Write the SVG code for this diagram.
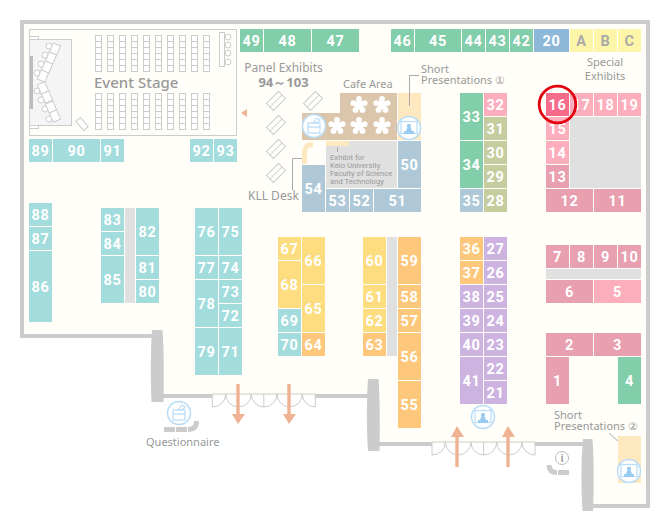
<svg xmlns="http://www.w3.org/2000/svg" xmlns:xlink="http://www.w3.org/1999/xlink" width="670" height="520" viewBox="0 0 670 520">
<style>
text{font-family:"Roboto","Liberation Sans",sans-serif}
.n{font-size:14.500px;font-weight:700;fill:#fff;text-anchor:middle;letter-spacing:.7px}
.l{font-family:"Noto Sans","Liberation Sans",sans-serif;font-size:11px;fill:#999}
.c{text-anchor:middle}
.t{fill:#a3dcdc}.g{fill:#82ceaa}.b{fill:#aec8d8}.b2{fill:#8eb8d8}.y{fill:#fdf6a8}.p{fill:#fdaebd}.m{fill:#e8a0b0}.r{fill:#f66a8a}.o{fill:#c5cd9f}.v{fill:#cdb4e0}.a{fill:#fdc87c}.f{fill:#fddd80}
.k{fill:#e0e0e0}.s{fill:#fde8c0}
.ln{fill:none;stroke:#ccc;stroke-width:1}
.seat{fill:#fff;stroke:#ccc;stroke-width:1}
.wall{fill:#ccc}
.lead{fill:none;stroke:#aaa;stroke-width:1}
.ar{fill:#efb394}
.ic{fill:#fff;stroke:#b8dcf8;stroke-width:1.5}
.ii{fill:none;stroke:#b8dcf8;stroke-width:1.2}
.if{fill:#9accf2}
</style>
<defs>
<g id="box"><circle r="11.5" class="ic"/><rect x="-6" y="-3" width="12" height="10" class="ii"/><line x1="-6" y1="1" x2="6" y2="1" class="ii"/><path d="M-1,-3 L3,-8 L6,-6 L3,-3 Z" class="ii"/></g>
<g id="scr"><circle r="11.5" class="ic"/><rect x="-8" y="-6.500" width="16" height="12" class="ii"/><circle cy="-2" r="2.200" class="if"/><path d="M-3,3 L-2,0 H2 L3,3 H5 V6 H-5 V3 Z" class="if"/></g>
<g id="fl" fill="#fff"><circle r="4.600"/><circle cy="-6" r="2.900"/><circle cx="5.700" cy="-1.900" r="2.900"/><circle cx="3.500" cy="4.900" r="2.900"/><circle cx="-3.500" cy="4.900" r="2.900"/><circle cx="-5.700" cy="-1.900" r="2.900"/></g>
<g id="pn"><g transform="rotate(-45)"><rect x="-8.500" y="-5" width="17" height="10" class="ln"/><line x1="-8.500" x2="8.500" class="ln"/></g></g>
<g id="door"><path class="ln" d="M0,13 V0 H103 V13 M51.500,0 V13 M0,13 A13,13 0 0 0 13.400,0 A13,13 0 0 0 26,13 A13,13 0 0 0 39,0 A13,13 0 0 0 51.700,13 A13,13 0 0 0 64.700,0 A13,13 0 0 0 77,13 A13,13 0 0 0 90,0 A13,13 0 0 0 103,13"/></g>
<g id="col"><rect width="6" height="36" class="seat"/><path class="ln" d="M0,6h6M0,12h6M0,18h6M0,24h6M0,30h6"/></g>
<g id="col2"><use xlink:href="#col"/><use xlink:href="#col" x="12"/><use xlink:href="#col" x="24"/><use xlink:href="#col" x="36"/><use xlink:href="#col" x="48"/><use xlink:href="#col" x="60"/><use xlink:href="#col" x="72"/><use xlink:href="#col" x="84"/><use xlink:href="#col" x="96"/><use xlink:href="#col" x="108"/></g>
</defs>
<rect width="670" height="520" fill="#fff"/>
<g id="floor">
<path d="M22,22H648V506H590V444H375V396H157V336H22Z" fill="#fffef8"/>
<path class="wall" d="M20,20H650V508H590V504H646V24H24V334H155V338H20Z"/>
<rect class="wall" x="160" y="394" width="52" height="4"/><rect class="wall" x="315" y="394" width="56" height="4"/>
<rect class="wall" x="376" y="442" width="56" height="4"/><rect class="wall" x="535" y="442" width="50" height="4"/>
<path class="wall" d="M152,330H162.500C164,350 164,382 163.500,402H151.500C150.500,382 150.500,350 152,330Z"/>
<path class="wall" d="M368,379H378.500C380,399 380,431 379.500,451H368C366.500,431 366.500,399 368,379Z"/>
<path class="wall" d="M583,439H592.500C594,459 594,491 593,511H582.500C581,491 581,459 583,439Z"/>
<use xlink:href="#door" x="212.300" y="394"/><use xlink:href="#door" x="432" y="442"/>
</g>
<g id="event-stage">
<rect x="29.500" y="29.500" width="207" height="106" fill="#fffef8" stroke="#ccc"/>
<rect x="29.500" y="36.500" width="9" height="3" fill="#fff" stroke="#ccc"/><rect x="29.500" y="125.500" width="9" height="3" fill="#fff" stroke="#ccc"/>
<rect x="29.500" y="39.500" width="42" height="86" fill="#f5f5f5" stroke="#ccc"/>
<rect x="30" y="56" width="3" height="53" fill="#bbb"/>
<g class="seat">
<circle cx="49" cy="46" r="3"/><circle cx="45" cy="55" r="3"/><circle cx="41" cy="64" r="3"/><circle cx="37" cy="73" r="3"/>
<circle cx="37" cy="91" r="3"/><circle cx="41" cy="100" r="3"/><circle cx="45" cy="109" r="3"/><circle cx="49" cy="119" r="3"/>
<rect x="-4" y="-5" width="8" height="10" transform="translate(55,49) rotate(23)"/><rect x="-4" y="-5" width="8" height="10" transform="translate(51,58) rotate(23)"/><rect x="-4" y="-5" width="8" height="10" transform="translate(47,67) rotate(23)"/><rect x="-4" y="-5" width="8" height="10" transform="translate(43,76) rotate(23)"/>
<rect x="-4" y="-5" width="8" height="10" transform="translate(43,88) rotate(-23)"/><rect x="-4" y="-5" width="8" height="10" transform="translate(47,97) rotate(-23)"/><rect x="-4" y="-5" width="8" height="10" transform="translate(51,107) rotate(-23)"/><rect x="-4" y="-5" width="8" height="10" transform="translate(55,116) rotate(-23)"/>
<rect x="-3" y="-6" width="6" height="12" transform="translate(82,124) rotate(-40)"/>
<circle cx="228" cy="37" r="3"/><circle cx="228" cy="45" r="3"/><circle cx="228" cy="53" r="3"/><circle cx="228" cy="62" r="3"/>
<rect x="219.500" y="32.500" width="5" height="34"/>
</g>
<use xlink:href="#col2" x="95.500" y="35.500"/><use xlink:href="#col2" x="95.500" y="93.500"/>
<text class="l" x="94" y="88" style="font-size:15px;font-weight:500">Event Stage</text>
</g>
<g id="cafe">
<path d="M340,93H397V140H302V113H340Z" fill="#dcc6ab"/>
<rect class="s" x="398" y="93" width="23" height="47"/>
<use xlink:href="#fl" x="359" y="105"/><use xlink:href="#fl" x="382" y="105"/><use xlink:href="#fl" x="337" y="126"/><use xlink:href="#fl" x="359" y="126"/><use xlink:href="#fl" x="382" y="126"/>
<use xlink:href="#box" x="314" y="126"/><use xlink:href="#scr" x="409" y="128"/>
<text class="l" x="343" y="88">Cafe Area</text>
</g>
<g id="panels">
<use xlink:href="#pn" x="276" y="101"/><use xlink:href="#pn" x="276" y="125"/><use xlink:href="#pn" x="276" y="149"/><use xlink:href="#pn" x="276" y="173"/><use xlink:href="#pn" x="313" y="101"/>
<text class="l c" x="283.500" y="72" style="font-size:12px">Panel Exhibits</text>
<text class="l c" x="283.500" y="87" style="font-size:13px;font-weight:700">94～103</text>
</g>
<g id="keio">
<rect class="k" x="326" y="141" width="71" height="47"/>
<rect class="s" x="326" y="141" width="23" height="5"/>
<rect class="s" x="302" y="153" width="5" height="11"/>
<path d="M304.500,153Q304.500,144.500 313,144.500" fill="none" stroke="#fde8c0" stroke-width="5"/>
<g class="l" style="font-size:7.700px"><text x="330" y="160">Exhibit for</text><text x="330" y="168">Keio University</text><text x="330" y="176">Faculty of Science</text><text x="330" y="184">and Technology</text></g>
<text class="l" x="248" y="200" style="font-size:12px">KLL Desk</text>
</g>
<g id="connectors">
<path class="lead" d="M337.500,147V152"/>
<path class="lead" d="M302,158.500H292.500V190"/>
<path class="lead" d="M419,75.500H409.500V106"/>
<path class="lead" d="M609,433L630,452"/>
<path class="ar" d="M241,113L247,109V117Z"/>
<path class="ar" d="M236.300,384h3.400v30H245L238,424L232,414h4.300Z"/>
<path class="ar" d="M287.300,384h3.400v30H296L289,424L283,414h4.300Z"/>
<path class="ar" d="M455.300,467h3.400v-30H464L457,426L451,437h4.300Z"/>
<path class="ar" d="M506.300,467h3.400v-30H515L508,426L502,437h4.300Z"/>
</g>
<g id="labels">
<text class="l" x="421" y="73">Short</text><text class="l" x="421" y="84">Presentations ①</text>
<text class="l c" x="605" y="66">Special</text><text class="l c" x="605" y="80">Exhibits</text>
<text class="l" x="554" y="419">Short</text><text class="l" x="554" y="430">Presentations ②</text>
<text class="l" x="146" y="446">Questionnaire</text>
</g>
<g id="questionnaire"><use xlink:href="#box" x="179" y="413"/><rect class="wall" x="164" y="427" width="11" height="5"/><rect class="wall" x="176" y="427" width="11" height="5"/><path d="M188,429.500Q196.500,429.500 196.500,421" fill="none" stroke="#ccc" stroke-width="5"/></g>
<g id="info"><circle cx="562" cy="458" r="6.500" fill="#fff" stroke="#bbb"/><text x="562" y="462" text-anchor="middle" style="font-size:10px;fill:#999;font-weight:700">i</text><path d="M549,465Q549,472.500 557,472.500" fill="none" stroke="#ccc" stroke-width="5"/><rect class="wall" x="558" y="470" width="11" height="5"/></g>
<g id="short2"><rect class="s" x="618" y="436" width="23" height="47"/><use xlink:href="#scr" x="629" y="471"/></g>
<g id="short3"><use xlink:href="#scr" x="483" y="417"/></g>
<g id="aisles"><rect class="k" x="570" y="117" width="71" height="71"/><rect class="k" x="125" y="208" width="10" height="95"/><rect class="k" x="387" y="237" width="10" height="119"/><rect class="k" x="546" y="269" width="95" height="10"/></g>
<g id="b49"><rect class="g" x="240" y="29" width="23" height="23"/><text class="n" x="251.500" y="45.500">49</text></g>
<g id="b48"><rect class="g" x="264" y="29" width="47" height="23"/><text class="n" x="287.500" y="45.500">48</text></g>
<g id="b47"><rect class="g" x="312" y="29" width="47" height="23"/><text class="n" x="335.500" y="45.500">47</text></g>
<g id="b46"><rect class="g" x="391" y="29" width="23" height="23"/><text class="n" x="402.500" y="45.500">46</text></g>
<g id="b45"><rect class="g" x="415" y="29" width="46" height="23"/><text class="n" x="438" y="45.500">45</text></g>
<g id="b44"><rect class="g" x="462" y="29" width="23" height="23"/><text class="n" x="473.500" y="45.500">44</text></g>
<g id="b43"><rect class="g" x="486" y="29" width="23" height="23"/><text class="n" x="497.500" y="45.500">43</text></g>
<g id="b42"><rect class="g" x="510" y="29" width="23" height="23"/><text class="n" x="521.500" y="45.500">42</text></g>
<g id="b20"><rect class="b2" x="534" y="29" width="35" height="23"/><text class="n" x="551.500" y="45.500">20</text></g>
<g id="bA"><rect class="y" x="570" y="29" width="23" height="23"/><text class="n" x="581.500" y="45.500" style="fill:#aaa">A</text></g>
<g id="bB"><rect class="y" x="594" y="29" width="23" height="23"/><text class="n" x="605.500" y="45.500" style="fill:#aaa">B</text></g>
<g id="bC"><rect class="y" x="618" y="29" width="23" height="23"/><text class="n" x="629.500" y="45.500" style="fill:#aaa">C</text></g>
<g id="b33"><rect class="g" x="460" y="93" width="23" height="47"/><text class="n" x="471.500" y="121.500">33</text></g>
<g id="b32"><rect class="p" x="484" y="93" width="23" height="23"/><text class="n" x="495.500" y="109.500">32</text></g>
<g id="b31"><rect class="o" x="484" y="117" width="23" height="23"/><text class="n" x="495.500" y="133.500">31</text></g>
<g id="b34"><rect class="g" x="460" y="141" width="23" height="47"/><text class="n" x="471.500" y="169.500">34</text></g>
<g id="b30"><rect class="o" x="484" y="141" width="23" height="23"/><text class="n" x="495.500" y="157.500">30</text></g>
<g id="b29"><rect class="o" x="484" y="165" width="23" height="23"/><text class="n" x="495.500" y="181.500">29</text></g>
<g id="b35"><rect class="b" x="460" y="189" width="23" height="23"/><text class="n" x="471.500" y="205.500">35</text></g>
<g id="b28"><rect class="o" x="484" y="189" width="23" height="23"/><text class="n" x="495.500" y="205.500">28</text></g>
<g id="b17"><rect class="p" x="570" y="93" width="23" height="23"/><text class="n" x="581.500" y="109.500">17</text></g>
<g id="b18"><rect class="p" x="594" y="93" width="23" height="23"/><text class="n" x="605.500" y="109.500">18</text></g>
<g id="b19"><rect class="p" x="618" y="93" width="23" height="23"/><text class="n" x="629.500" y="109.500">19</text></g>
<g id="b15"><rect class="p" x="546" y="117" width="23" height="23"/><text class="n" x="557.500" y="133.500">15</text></g>
<g id="b14"><rect class="p" x="546" y="141" width="23" height="23"/><text class="n" x="557.500" y="157.500">14</text></g>
<g id="b13"><rect class="m" x="546" y="165" width="23" height="23"/><text class="n" x="557.500" y="181.500">13</text></g>
<g id="b12"><rect class="m" x="546" y="189" width="47" height="23"/><text class="n" x="569.500" y="205.500">12</text></g>
<g id="b11"><rect class="m" x="594" y="189" width="47" height="23"/><text class="n" x="617.500" y="205.500">11</text></g>
<g id="b16"><rect class="r" x="546" y="93" width="23" height="23"/><text class="n" x="557.500" y="109.500">16</text><circle cx="557.500" cy="104.500" r="18.300" fill="none" stroke="#e3000f" stroke-width="2.800"/></g>
<g id="b50"><rect class="b" x="398" y="141" width="23" height="47"/><text class="n" x="409.500" y="169.500">50</text></g>
<g id="b54"><rect class="b" x="302" y="165" width="23" height="47"/><text class="n" x="313.500" y="193.500">54</text></g>
<g id="b53"><rect class="b" x="326" y="189" width="23" height="23"/><text class="n" x="337.500" y="205.500">53</text></g>
<g id="b52"><rect class="b" x="350" y="189" width="23" height="23"/><text class="n" x="361.500" y="205.500">52</text></g>
<g id="b51"><rect class="b" x="374" y="189" width="47" height="23"/><text class="n" x="397.500" y="205.500">51</text></g>
<g id="b89"><rect class="t" x="29" y="139" width="23" height="23"/><text class="n" x="40.500" y="155.500">89</text></g>
<g id="b90"><rect class="t" x="53" y="139" width="47" height="23"/><text class="n" x="76.500" y="155.500">90</text></g>
<g id="b91"><rect class="t" x="101" y="139" width="23" height="23"/><text class="n" x="112.500" y="155.500">91</text></g>
<g id="b92"><rect class="t" x="190" y="139" width="23" height="23"/><text class="n" x="201.500" y="155.500">92</text></g>
<g id="b93"><rect class="t" x="214" y="139" width="23" height="23"/><text class="n" x="225.500" y="155.500">93</text></g>
<g id="b88"><rect class="t" x="29" y="203" width="23" height="23"/><text class="n" x="40.500" y="219.500">88</text></g>
<g id="b87"><rect class="t" x="29" y="227" width="23" height="23"/><text class="n" x="40.500" y="243.500">87</text></g>
<g id="b86"><rect class="t" x="29" y="251" width="23" height="71"/><text class="n" x="40.500" y="291.500">86</text></g>
<g id="b83"><rect class="t" x="101" y="208" width="23" height="23"/><text class="n" x="112.500" y="224.500">83</text></g>
<g id="b84"><rect class="t" x="101" y="232" width="23" height="23"/><text class="n" x="112.500" y="248.500">84</text></g>
<g id="b85"><rect class="t" x="101" y="256" width="23" height="47"/><text class="n" x="112.500" y="284.500">85</text></g>
<g id="b82"><rect class="t" x="136" y="208" width="23" height="47"/><text class="n" x="147.500" y="236.500">82</text></g>
<g id="b81"><rect class="t" x="136" y="256" width="23" height="23"/><text class="n" x="147.500" y="272.500">81</text></g>
<g id="b80"><rect class="t" x="136" y="280" width="23" height="23"/><text class="n" x="147.500" y="296.500">80</text></g>
<g id="b76"><rect class="t" x="195" y="208" width="23" height="47"/><text class="n" x="206.500" y="236.500">76</text></g>
<g id="b75"><rect class="t" x="219" y="208" width="23" height="47"/><text class="n" x="230.500" y="236.500">75</text></g>
<g id="b77"><rect class="t" x="195" y="256" width="23" height="23"/><text class="n" x="206.500" y="272.500">77</text></g>
<g id="b74"><rect class="t" x="219" y="256" width="23" height="23"/><text class="n" x="230.500" y="272.500">74</text></g>
<g id="b78"><rect class="t" x="195" y="280" width="23" height="47"/><text class="n" x="206.500" y="308.500">78</text></g>
<g id="b73"><rect class="t" x="219" y="280" width="23" height="23"/><text class="n" x="230.500" y="296.500">73</text></g>
<g id="b72"><rect class="t" x="219" y="304" width="23" height="23"/><text class="n" x="230.500" y="320.500">72</text></g>
<g id="b79"><rect class="t" x="195" y="328" width="23" height="47"/><text class="n" x="206.500" y="356.500">79</text></g>
<g id="b71"><rect class="t" x="219" y="328" width="23" height="47"/><text class="n" x="230.500" y="356.500">71</text></g>
<g id="b67"><rect class="f" x="278" y="237" width="23" height="23"/><text class="n" x="289.500" y="253.500">67</text></g>
<g id="b68"><rect class="f" x="278" y="261" width="23" height="47"/><text class="n" x="289.500" y="289.500">68</text></g>
<g id="b69"><rect class="t" x="278" y="309" width="23" height="23"/><text class="n" x="289.500" y="325.500">69</text></g>
<g id="b70"><rect class="t" x="278" y="333" width="23" height="23"/><text class="n" x="289.500" y="349.500">70</text></g>
<g id="b66"><rect class="f" x="302" y="237" width="23" height="47"/><text class="n" x="313.500" y="265.500">66</text></g>
<g id="b65"><rect class="f" x="302" y="285" width="23" height="47"/><text class="n" x="313.500" y="313.500">65</text></g>
<g id="b64"><rect class="a" x="302" y="333" width="23" height="23"/><text class="n" x="313.500" y="349.500">64</text></g>
<g id="b60"><rect class="f" x="363" y="237" width="23" height="47"/><text class="n" x="374.500" y="265.500">60</text></g>
<g id="b61"><rect class="f" x="363" y="285" width="23" height="23"/><text class="n" x="374.500" y="301.500">61</text></g>
<g id="b62"><rect class="f" x="363" y="309" width="23" height="23"/><text class="n" x="374.500" y="325.500">62</text></g>
<g id="b63"><rect class="a" x="363" y="333" width="23" height="23"/><text class="n" x="374.500" y="349.500">63</text></g>
<g id="b59"><rect class="a" x="398" y="237" width="23" height="47"/><text class="n" x="409.500" y="265.500">59</text></g>
<g id="b58"><rect class="a" x="398" y="285" width="23" height="23"/><text class="n" x="409.500" y="301.500">58</text></g>
<g id="b57"><rect class="a" x="398" y="309" width="23" height="23"/><text class="n" x="409.500" y="325.500">57</text></g>
<g id="b56"><rect class="a" x="398" y="333" width="23" height="47"/><text class="n" x="409.500" y="361.500">56</text></g>
<g id="b55"><rect class="a" x="398" y="381" width="23" height="47"/><text class="n" x="409.500" y="409.500">55</text></g>
<g id="b36"><rect class="a" x="460" y="237" width="23" height="23"/><text class="n" x="471.500" y="253.500">36</text></g>
<g id="b37"><rect class="a" x="460" y="261" width="23" height="23"/><text class="n" x="471.500" y="277.500">37</text></g>
<g id="b38"><rect class="v" x="460" y="285" width="23" height="23"/><text class="n" x="471.500" y="301.500">38</text></g>
<g id="b39"><rect class="v" x="460" y="309" width="23" height="23"/><text class="n" x="471.500" y="325.500">39</text></g>
<g id="b40"><rect class="v" x="460" y="333" width="23" height="23"/><text class="n" x="471.500" y="349.500">40</text></g>
<g id="b41"><rect class="v" x="460" y="357" width="23" height="47"/><text class="n" x="471.500" y="385.500">41</text></g>
<g id="b27"><rect class="v" x="484" y="237" width="23" height="23"/><text class="n" x="495.500" y="253.500">27</text></g>
<g id="b26"><rect class="v" x="484" y="261" width="23" height="23"/><text class="n" x="495.500" y="277.500">26</text></g>
<g id="b25"><rect class="v" x="484" y="285" width="23" height="23"/><text class="n" x="495.500" y="301.500">25</text></g>
<g id="b24"><rect class="v" x="484" y="309" width="23" height="23"/><text class="n" x="495.500" y="325.500">24</text></g>
<g id="b23"><rect class="v" x="484" y="333" width="23" height="23"/><text class="n" x="495.500" y="349.500">23</text></g>
<g id="b22"><rect class="v" x="484" y="357" width="23" height="23"/><text class="n" x="495.500" y="373.500">22</text></g>
<g id="b21"><rect class="v" x="484" y="381" width="23" height="23"/><text class="n" x="495.500" y="397.500">21</text></g>
<g id="b7"><rect class="m" x="546" y="245" width="23" height="23"/><text class="n" x="557.500" y="261.500">7</text></g>
<g id="b8"><rect class="m" x="570" y="245" width="23" height="23"/><text class="n" x="581.500" y="261.500">8</text></g>
<g id="b9"><rect class="m" x="594" y="245" width="23" height="23"/><text class="n" x="605.500" y="261.500">9</text></g>
<g id="b10"><rect class="m" x="618" y="245" width="23" height="23"/><text class="n" x="629.500" y="261.500">10</text></g>
<g id="b6"><rect class="m" x="546" y="280" width="47" height="23"/><text class="n" x="569.500" y="296.500">6</text></g>
<g id="b5"><rect class="p" x="594" y="280" width="47" height="23"/><text class="n" x="617.500" y="296.500">5</text></g>
<g id="b2"><rect class="m" x="546" y="333" width="47" height="23"/><text class="n" x="569.500" y="349.500">2</text></g>
<g id="b3"><rect class="m" x="594" y="333" width="47" height="23"/><text class="n" x="617.500" y="349.500">3</text></g>
<g id="b1"><rect class="m" x="546" y="357" width="23" height="47"/><text class="n" x="557.500" y="385.500">1</text></g>
<g id="b4"><rect class="g" x="618" y="357" width="23" height="47"/><text class="n" x="629.500" y="385.500">4</text></g>
</svg>
